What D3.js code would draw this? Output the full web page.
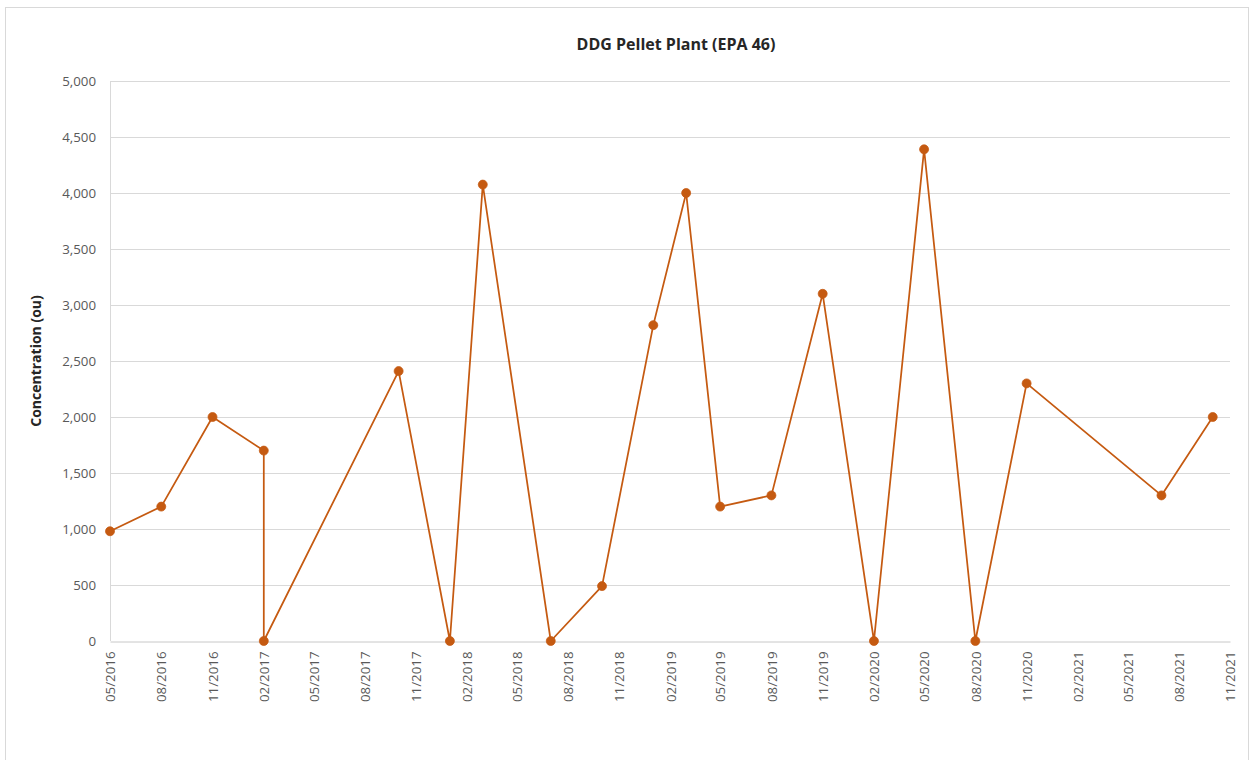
<!DOCTYPE html>
<html>
<head>
<meta charset="utf-8">
<script src="https://cdn.jsdelivr.net/npm/d3@7"></script>
<style>
  html, body { margin: 0; padding: 0; background: #ffffff; }
  svg { display: block; font-family: "Open Sans", "Noto Sans", sans-serif; }
</style>
</head>
<body>
<svg id="chart" width="1250" height="760"></svg>
<script>
// Sampling dates (first of month) and measured odour concentrations
const sampleDates = [
  "2016-05-01", "2016-08-01", "2016-11-01", "2017-02-01", "2017-02-01",
  "2017-10-01", "2018-01-01", "2018-03-01", "2018-07-01", "2018-10-01",
  "2019-01-01", "2019-03-01", "2019-05-01", "2019-08-01", "2019-11-01",
  "2020-02-01", "2020-05-01", "2020-08-01", "2020-11-01", "2021-07-01",
  "2021-10-01"
];
const concentrations = [
  980, 1200, 2000, 1700, 0,
  2410, 0, 4075, 0, 490,
  2820, 4000, 1200, 1300, 3100,
  0, 4390, 0, 2300, 1300,
  2000
];
const yTicks = [0, 500, 1000, 1500, 2000, 2500, 3000, 3500, 4000, 4500, 5000];
const xTickLabels = [
  "05/2016", "08/2016", "11/2016", "02/2017", "05/2017", "08/2017", "11/2017",
  "02/2018", "05/2018", "08/2018", "11/2018", "02/2019", "05/2019", "08/2019",
  "11/2019", "02/2020", "05/2020", "08/2020", "11/2020", "02/2021", "05/2021",
  "08/2021", "11/2021"
];
const chartTitle = "DDG Pellet Plant (EPA 46)";
const yTitle = "Concentration (ou)";

const parseDate = d3.timeParse("%Y-%m-%d");
const parseTick = d3.timeParse("%m/%Y");
const points = sampleDates.map((d, i) => ({ date: parseDate(d), value: concentrations[i] }));
const tickDates = xTickLabels.map(parseTick);

const svg = d3.select("#chart");
const plot = { left: 110, right: 1230, top: 81, bottom: 641 };

// Chart frame
svg.append("rect")
  .attr("x", 5.5).attr("y", 7.5)
  .attr("width", 1243).attr("height", 770)
  .attr("fill", "#ffffff")
  .attr("stroke", "#d9d9d9").attr("stroke-width", 1);

const x = d3.scaleTime()
  .domain([tickDates[0], tickDates[tickDates.length - 1]])
  .range([plot.left, plot.right]);
const y = d3.scaleLinear()
  .domain([0, 5000])
  .range([plot.bottom, plot.top]);

// Horizontal gridlines
svg.append("g")
  .selectAll("line")
  .data(yTicks.filter(t => t > 0))
  .join("line")
  .attr("x1", plot.left).attr("x2", plot.right)
  .attr("y1", d => Math.round(y(d)) + 0.5).attr("y2", d => Math.round(y(d)) + 0.5)
  .attr("stroke", "#d9d9d9").attr("stroke-width", 1);

// Y axis (labels only, vertical rule drawn separately)
const yAxis = d3.axisLeft(y)
  .tickValues(yTicks)
  .tickFormat(d3.format(","))
  .tickSize(0)
  .tickPadding(14);
const gy = svg.append("g")
  .attr("transform", `translate(${plot.left},0)`)
  .call(yAxis);
gy.select(".domain").remove();
gy.selectAll("text")
  .attr("fill", "#595959")
  .style("font-size", "13.3px")
  .style("font-family", "'Open Sans', sans-serif");

// Left rule
svg.append("line")
  .attr("x1", plot.left + 0.5).attr("x2", plot.left + 0.5)
  .attr("y1", plot.top).attr("y2", plot.bottom)
  .attr("stroke", "#d9d9d9").attr("stroke-width", 1);

// X axis, labels only below the base line
const xAxis = d3.axisBottom(x)
  .tickValues(tickDates)
  .tickFormat(d3.timeFormat("%m/%Y"))
  .tickSize(0);
const gx = svg.append("g")
  .attr("transform", `translate(0,${plot.bottom + 0.5})`)
  .call(xAxis);
gx.select(".domain").attr("stroke", "#c8c8c8").attr("stroke-width", 1);
gx.selectAll("text")
  .attr("fill", "#595959")
  .style("font-size", "13.3px")
  .style("font-family", "'Open Sans', sans-serif")
  .attr("transform", "rotate(-90)")
  .attr("text-anchor", "end")
  .attr("x", -10)
  .attr("y", 0)
  .attr("dy", "0.35em");

// Series line
const line = d3.line()
  .x(d => x(d.date))
  .y(d => y(d.value));
svg.append("path")
  .datum(points)
  .attr("fill", "none")
  .attr("stroke", "#c55a11")
  .attr("stroke-width", 1.75)
  .attr("stroke-linejoin", "round")
  .attr("d", line);

// Markers
svg.append("g")
  .selectAll("circle")
  .data(points)
  .join("circle")
  .attr("cx", d => x(d.date))
  .attr("cy", d => y(d.value))
  .attr("r", 4.5)
  .attr("fill", "#c55a11")
  .attr("stroke", "#c55a11")
  .attr("stroke-width", 0.75);

// Title
svg.append("text")
  .attr("x", 676).attr("y", 50)
  .attr("text-anchor", "middle")
  .attr("fill", "#262626")
  .style("font-size", "16px")
  .style("font-weight", "bold")
  .text(chartTitle);

// Y axis title
svg.append("text")
  .attr("transform", "translate(41,361) rotate(-90)")
  .attr("text-anchor", "middle")
  .attr("fill", "#262626")
  .style("font-size", "14px")
  .style("font-weight", "bold")
  .text(yTitle);
</script>
</body>
</html>
